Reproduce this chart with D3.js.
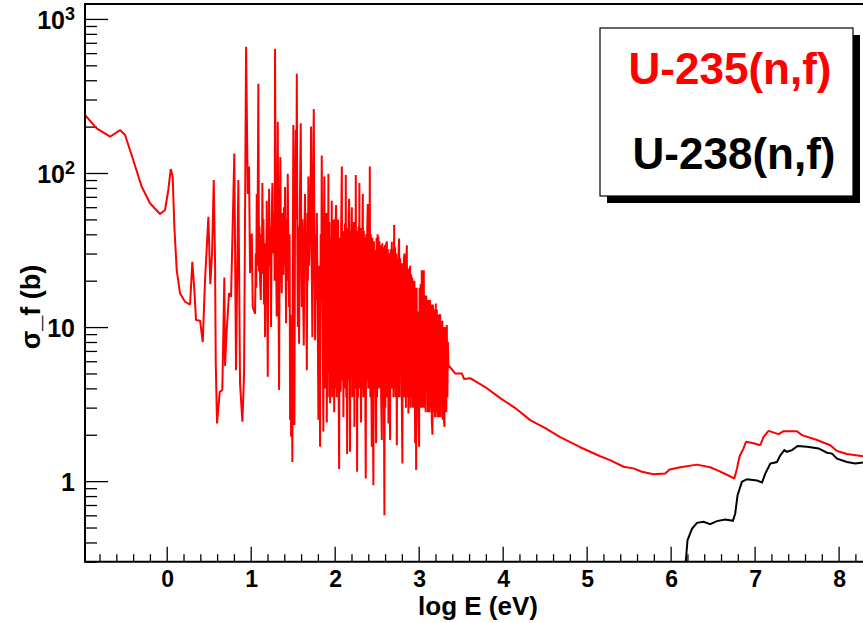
<!DOCTYPE html>
<html>
<head>
<meta charset="utf-8">
<script src="https://cdn.jsdelivr.net/npm/d3@7"></script>
<style>
  html, body { margin: 0; padding: 0; background: #fff; }
  svg { display: block; font-family: "Liberation Sans", Arial, sans-serif; }
</style>
</head>
<body>
<div id="chart"></div>
<script>
// U-235(n,f) : [log10 E (eV), sigma_f (b)]
const u235 = [
  [-0.973,238],[-0.834,195],[-0.675,172],[-0.556,190],[-0.497,177],[-0.398,121],[-0.298,81.5],
  [-0.199,63.6],[-0.080,54.2],[-0.020,57.5],[0.019,77.6],[0.048,106],[0.071,94.6],[0.091,44.8],
  [0.119,23.4],[0.158,16.6],[0.218,14.6],[0.278,14.0],[0.305,26.5],[0.329,17.4],[0.349,11.1],
  [0.397,11.0],[0.429,8.0],[0.456,20],[0.496,52],[0.519,19],[0.540,30],[0.560,90],[0.575,28],
  [0.584,5.8],[0.599,2.37],[0.631,3.8],[0.662,3.9],[0.686,21],[0.694,5.6],[0.715,9.6],[0.742,16.6],
  [0.766,15.7],[0.805,134],[0.825,5.25],[0.853,90],[0.873,4.3],[0.901,2.43],[0.921,5.0],[0.945,660],
  [0.965,73],[0.980,110],[0.992,22.4],[1.013,40.5],[1.024,13.5],
  [1.052,12.2],[1.060,30],[1.066,18],[1.072,73],[1.080,25],[1.091,380],[1.099,23],[1.105,45],
  [1.112,20],[1.120,15],[1.128,40],[1.133,22],[1.139,86],[1.146,30],[1.152,50],[1.158,14],
  [1.165,35],[1.171,8.6],[1.178,30],[1.184,18],[1.191,66],[1.197,20],[1.203,4.76],[1.210,40],
  [1.214,25],[1.219,79],[1.226,28],[1.232,45],[1.242,10],[1.250,50],[1.258,86],[1.265,35],
  [1.272,30],[1.280,55],[1.285,20],[1.290,640],[1.297,40],[1.303,25],[1.310,11.7],[1.316,60],
  [1.322,215],[1.330,20],[1.338,3.9],[1.345,45],[1.353,127],[1.360,30],[1.370,16.6],[1.376,55],
  [1.382,28],[1.389,21.8],[1.396,60],[1.402,25],[1.409,81],[1.415,30],[1.421,10.6],[1.428,50],
  [1.434,20],[1.441,99],[1.449,30],[1.457,13.5],[1.463,40],[1.469,2.5],[1.475,12],[1.481,1.94],
  [1.488,8],[1.496,1.33],[1.502,40],[1.508,205],[1.514,20],[1.520,2.31],[1.528,60],[1.537,190],
  [1.543,50],[1.549,440],[1.555,40],[1.561,10],[1.568,45],[1.576,7.8],[1.585,60],[1.596,210],
  [1.602,35],[1.608,13.5],[1.615,50],[1.622,20],[1.632,7.6],[1.640,40],[1.647,73],[1.654,25],
  [1.660,40],[1.668,5.25],[1.676,55],[1.681,20],[1.687,95],[1.695,25],[1.703,36.7],[1.711,60],
  [1.719,200],[1.726,30],[1.734,8.6],[1.742,70],[1.751,260],[1.759,30],[1.767,8.2],[1.774,40],
  [1.780,15],[1.787,55],[1.795,20],[1.806,2.5],[1.812,25],[1.818,8],[1.826,1.67],[1.833,40],
  [1.840,15],[1.846,130],[1.852,25],[1.858,10],[1.865,2.1],[1.871,35],
  [1.877,95],[1.883,4],[1.889,45],[1.895,6],[1.901,55],[1.906,2.4],[1.912,40],[1.918,3.5],
  [1.925,99],[1.931,5],[1.937,48],[1.945,3.2],[1.951,38],[1.958,4],[1.965,66],[1.971,3.5],
  [1.977,45],[1.983,6],[1.988,50],[1.994,2.8],[2.000,40],[2.006,4],[2.011,48],[2.017,62],
  [2.023,3.5],[2.029,42],[2.035,5],[2.041,50],[2.047,4],[2.053,1.2],[2.059,38],[2.065,29],
  [2.071,3.8],[2.077,45],[2.085,110],[2.091,4.5],[2.097,40],[2.104,2.6],[2.110,42],[2.116,4],
  [2.122,47],[2.127,5],[2.132,97],[2.138,3.5],[2.143,44],[2.148,1.5],[2.154,40],[2.160,4.5],
  [2.166,50],[2.172,68],[2.178,3.5],[2.183,1.55],[2.189,42],[2.195,5],[2.200,45],[2.204,60],
  [2.210,3.5],[2.216,40],[2.222,5],[2.229,48],[2.235,2.25],[2.241,38],[2.246,4],[2.251,97],
  [2.257,5],[2.262,42],[2.267,1.15],[2.273,40],[2.279,3.5],[2.285,45],[2.290,5],[2.294,86],
  [2.300,4],[2.306,44],[2.310,5],[2.314,2.4],[2.320,40],[2.326,4],[2.331,47],[2.335,73],
  [2.341,3.5],[2.347,42],[2.354,6.9],[2.360,38],[2.365,3],[2.370,1.04],[2.376,40],[2.382,4.5],
  [2.388,45],[2.394,63],[2.400,4],[2.406,42],[2.412,5],[2.418,110],[2.424,3.5],[2.430,40],
  [2.436,4.5],[2.442,1.67],[2.448,38],[2.454,3.5],[2.461,0.94],[2.467,36],[2.473,4],[2.481,31.6],
  [2.487,4.5],[2.493,1.76],[2.499,38],[2.505,3.5],[2.511,40],[2.516,4.5],[2.521,38.5],[2.527,4],
  [2.533,36],[2.541,4.1],[2.547,34],[2.553,3.5],[2.561,1.85],[2.567,35],[2.573,4],[2.580,33],
  [2.586,3.5],[2.592,0.6],[2.598,34],[2.604,3],[2.610,35],[2.615,4],[2.621,36],[2.627,3.5],
  [2.633,32],[2.640,2.37],[2.646,30],[2.652,3.5],[2.660,1.85],[2.666,32],[2.672,4],[2.680,35.8],
  [2.686,4],[2.692,32],[2.700,3.5],[2.708,46],[2.714,4],[2.720,33],[2.726,3.5],[2.732,30],
  [2.740,1.71],[2.746,28],[2.752,3.5],[2.760,30],[2.767,37.6],[2.773,3.5],[2.780,28],[2.787,5.0],
  [2.793,26],[2.800,3],[2.806,1.30],[2.812,26],[2.818,3.5],[2.824,28],[2.830,30],[2.836,3.5],
  [2.842,25],[2.848,3],[2.853,27],[2.859,34],[2.865,3.5],[2.871,24],[2.878,2.75],[2.884,24],
  [2.890,3.5],[2.898,25],[2.904,3],[2.910,22],[2.918,3.5],[2.924,21],[2.930,3],[2.937,20],
  [2.943,3],[2.949,20],[2.958,1.76],[2.964,18],[2.970,1.18],[2.976,18],[2.982,3],[2.990,12.6],
  [2.996,2.8],[3.005,1.67],[3.011,18],[3.017,3],[3.024,19],[3.030,3],[3.037,23.4],[3.043,3],
  [3.050,4.5],[3.056,18],[3.061,23.4],[3.067,3],[3.072,16],[3.077,15.3],[3.083,2.8],[3.090,16],
  [3.097,3.9],[3.103,15],[3.110,2.8],[3.116,3.0],[3.122,15],[3.129,2.8],[3.136,15],[3.142,3],
  [3.149,14],[3.156,2.5],[3.164,2.0],[3.170,14],[3.176,2.8],[3.182,13],[3.188,8.2],[3.194,2.6],
  [3.204,14.2],[3.210,2.8],[3.216,13],[3.222,2.6],[3.228,3.0],[3.234,12],[3.242,2.6],[3.249,12],
  [3.256,12],[3.262,2.6],[3.269,11],[3.276,4.8],[3.282,11],[3.288,2.5],[3.295,10],[3.301,2.5],
  [3.307,2.25],[3.313,10],[3.318,3],[3.323,7.1],[3.329,2.8],[3.335,10.3],[3.342,3.5],[3.348,8],
  [3.354,5.66],
  [3.434,5.0],[3.514,5.0],[3.541,4.6],[3.613,4.66],[3.792,4.08],[3.971,3.46],[4.150,2.98],[4.328,2.49],
  [4.507,2.21],[4.685,1.93],[4.923,1.66],[5.161,1.45],[5.280,1.37],[5.439,1.24],[5.558,1.21],
  [5.658,1.15],[5.796,1.11],[5.936,1.12],[5.987,1.19],[6.114,1.23],[6.313,1.28],[6.471,1.23],
  [6.551,1.18],[6.671,1.10],[6.758,1.04],[6.790,1.21],[6.821,1.45],[6.868,1.63],[6.897,1.80],
  [6.988,1.76],[7.067,1.71],[7.107,1.94],[7.166,2.12],[7.285,2.02],[7.345,2.11],[7.504,2.11],
  [7.564,1.99],[7.743,1.85],[7.901,1.71],[7.981,1.57],[8.100,1.50],[8.294,1.45]
];

// U-238(n,f) : threshold reaction, only above ~1 MeV
const u238 = [
  [6.180,0.30],[6.201,0.414],[6.254,0.49],[6.313,0.536],[6.392,0.545],[6.471,0.526],[6.551,0.55],
  [6.650,0.564],[6.742,0.553],[6.769,0.617],[6.797,0.81],[6.849,0.99],[6.909,1.03],[7.028,1.01],
  [7.088,0.98],[7.127,1.12],[7.187,1.30],[7.266,1.33],[7.306,1.47],[7.354,1.59],[7.385,1.55],
  [7.445,1.59],[7.512,1.69],[7.624,1.67],[7.762,1.63],[7.862,1.53],[7.921,1.51],[7.981,1.40],
  [8.100,1.33],[8.199,1.30],[8.294,1.32]
];

const xMajor = [0, 1, 2, 3, 4, 5, 6, 7, 8];
const yMajor = [1, 10, 100, 1000];
const yLabels = [["1", ""], ["10", ""], ["10", "2"], ["10", "3"]];
const legendItems = [["U-235(n,f)", "#ff0000"], ["U-238(n,f)", "#000000"]];

const W = 863, H = 623;
const M = { left: 85, top: 4, right: 868, bottom: 561.7 };

function createViz() {
  const svg = d3.select("#chart").append("svg")
    .attr("width", W).attr("height", H);

  const x = d3.scaleLinear().domain([-0.973, 8.35]).range([M.left, M.right]);
  const y = d3.scaleLog().domain([0.3, 1250]).range([M.bottom, M.top]);

  // clip the curves to the frame
  svg.append("clipPath").attr("id", "clip")
    .append("rect")
    .attr("x", M.left).attr("y", M.top)
    .attr("width", M.right - M.left).attr("height", M.bottom - M.top);

  // minor x ticks every 0.2
  const xMinor = d3.range(-4, 42).map(i => i / 5)
    .filter(v => v >= -0.973 && v <= 8.35 && Math.abs(v - Math.round(v)) > 1e-6);

  const gx = svg.append("g").attr("transform", `translate(0,${M.bottom})`);
  gx.call(d3.axisBottom(x).tickValues(xMinor).tickSizeInner(-7.5).tickSizeOuter(0).tickFormat(""));
  gx.call(g => g.selectAll(".domain").remove());
  const gx2 = svg.append("g").attr("transform", `translate(0,${M.bottom})`);
  gx2.call(d3.axisBottom(x).tickValues(xMajor).tickSizeInner(-15).tickSizeOuter(0).tickFormat(""));
  gx2.call(g => g.selectAll(".domain").remove());

  // minor y ticks 2..9 per decade
  const yMinor = [];
  [0.1, 1, 10, 100].forEach(d => {
    for (let k = 2; k <= 9; k++) {
      const v = d * k;
      if (v >= 0.3 && v <= 1250) yMinor.push(v);
    }
  });

  const gy = svg.append("g").attr("transform", `translate(${M.left},0)`);
  gy.call(d3.axisLeft(y).tickValues(yMinor).tickSizeInner(-12).tickSizeOuter(0).tickFormat(""));
  gy.call(g => g.selectAll(".domain").remove());
  const gy2 = svg.append("g").attr("transform", `translate(${M.left},0)`);
  gy2.call(d3.axisLeft(y).tickValues(yMajor).tickSizeInner(-23).tickSizeOuter(0).tickFormat(""));
  gy2.call(g => g.selectAll(".domain").remove());

  svg.selectAll(".tick line").attr("stroke", "#000").attr("stroke-width", 1.3);

  // x tick labels
  svg.selectAll("text.xlab").data(xMajor).enter().append("text")
    .attr("class", "xlab")
    .attr("x", d => x(d) + 1).attr("y", 587)
    .attr("text-anchor", "middle")
    .attr("font-size", 23).attr("font-weight", "bold")
    .text(d => d);

  // y tick labels with superscripts
  yMajor.forEach((v, i) => {
    const t = svg.append("text")
      .attr("x", 75).attr("y", y(v) + 10)
      .attr("text-anchor", "end")
      .attr("font-size", 25).attr("font-weight", "bold");
    t.append("tspan").text(yLabels[i][0]);
    if (yLabels[i][1]) {
      t.append("tspan").attr("font-size", 18).attr("dy", -9).text(yLabels[i][1]);
    }
  });

  // curves
  const line = d3.line()
    .x(d => x(d[0]))
    .y(d => y(d[1]));

  const plot = svg.append("g").attr("clip-path", "url(#clip)");
  plot.append("path").datum(u238)
    .attr("d", line).attr("fill", "none")
    .attr("stroke", "#000").attr("stroke-width", 2);
  plot.append("path").datum(u235)
    .attr("d", line).attr("fill", "none")
    .attr("stroke", "#ff0000").attr("stroke-width", 2).attr("stroke-linejoin", "bevel");

  // frame (right side runs off the canvas)
  svg.append("path")
    .attr("d", `M${M.right},${M.top}H${M.left}V${M.bottom}H${M.right}`)
    .attr("fill", "none").attr("stroke", "#000").attr("stroke-width", 2);

  // axis titles
  svg.append("text")
    .attr("x", 478).attr("y", 615)
    .attr("text-anchor", "middle")
    .attr("font-size", 26).attr("font-weight", "bold")
    .text("log E (eV)");

  svg.append("text")
    .attr("transform", `translate(40,307) rotate(-90)`)
    .attr("text-anchor", "middle")
    .attr("font-size", 27).attr("font-weight", "bold")
    .text("σ_f (b)");

  // legend with drop shadow
  const lg = { x: 600, y: 28, w: 253, h: 168, shadow: 7 };
  svg.append("rect")
    .attr("x", lg.x + lg.shadow).attr("y", lg.y + lg.shadow)
    .attr("width", lg.w).attr("height", lg.h).attr("fill", "#000");
  svg.append("rect")
    .attr("x", lg.x).attr("y", lg.y)
    .attr("width", lg.w).attr("height", lg.h)
    .attr("fill", "#fff").attr("stroke", "#000").attr("stroke-width", 1.2);

  legendItems.forEach((d, i) => {
    svg.append("text")
      .attr("x", 730 + i * 4).attr("y", 84 + i * 85)
      .attr("text-anchor", "middle")
      .attr("font-size", 44).attr("font-weight", "bold")
      .attr("fill", d[1])
      .text(d[0]);
  });
}

createViz();
</script>
</body>
</html>
